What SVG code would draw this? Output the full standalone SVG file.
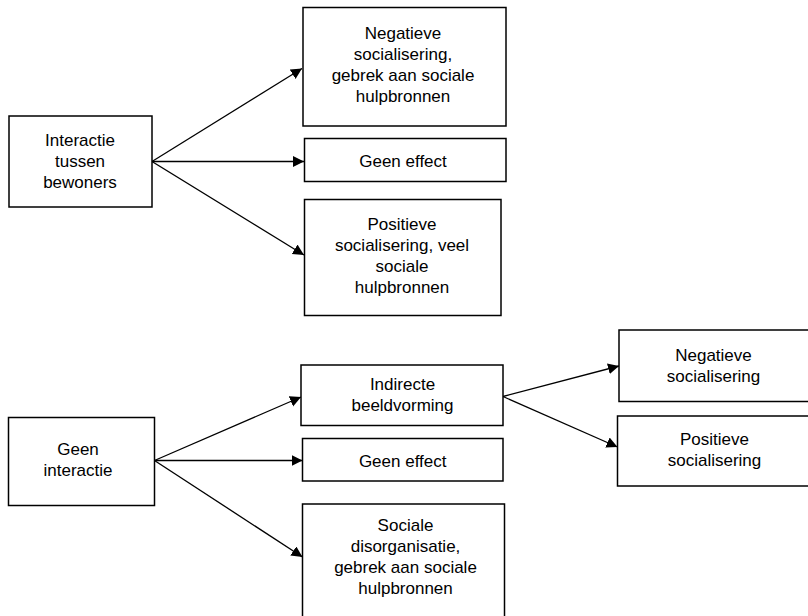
<svg xmlns="http://www.w3.org/2000/svg" width="808" height="616" viewBox="0 0 808 616">
<defs>
<style>
.box{fill:#fff;stroke:#000;stroke-width:1.5}
.t{font-family:"Liberation Sans",Arial,Helvetica,sans-serif;font-size:17px;fill:#000;text-anchor:middle}
.c{stroke:#000;stroke-width:1.3;fill:none;marker-end:url(#ah)}
</style>
<marker id="ah" markerUnits="userSpaceOnUse" markerWidth="12" markerHeight="12" refX="11" refY="5.5" orient="auto" viewBox="0 0 12 12">
<path d="M0,0 L11,5.5 L0,11 z" fill="#000"/>
</marker>
</defs>
<rect width="808" height="616" fill="#fff"/>
<g id="connectors">
<line class="c" x1="152" y1="161.5" x2="302" y2="68.5"/>
<line class="c" x1="152" y1="161.5" x2="304" y2="161.5"/>
<line class="c" x1="152" y1="161.5" x2="304" y2="255"/>
<line class="c" x1="154.5" y1="460.5" x2="301" y2="397"/>
<line class="c" x1="154.5" y1="460.5" x2="302.5" y2="460.5"/>
<line class="c" x1="154.5" y1="460.5" x2="302.5" y2="557"/>
<line class="c" x1="503" y1="396.5" x2="619" y2="366"/>
<line class="c" x1="503" y1="396.5" x2="617.5" y2="447"/>
</g>
<g id="n_interactie">
<rect class="box" x="9" y="116" width="143" height="91"/>
<text class="t" x="80" y="145.5">Interactie</text>
<text class="t" x="80" y="166.5">tussen</text>
<text class="t" x="80" y="187.5">bewoners</text>
</g>
<g id="n_negatief1">
<rect class="box" x="303" y="7.5" width="203" height="118.5"/>
<text class="t" x="403" y="38.5">Negatieve</text>
<text class="t" x="403" y="59.5">socialisering,</text>
<text class="t" x="403" y="80.5">gebrek aan sociale</text>
<text class="t" x="403" y="101.5">hulpbronnen</text>
</g>
<g id="n_geeneffect1">
<rect class="box" x="304.5" y="138.5" width="201.5" height="43"/>
<text class="t" x="403" y="166.5">Geen effect</text>
</g>
<g id="n_positief1">
<rect class="box" x="304.5" y="199.5" width="196.5" height="116"/>
<text class="t" x="402" y="229.5">Positieve</text>
<text class="t" x="402" y="250.5">socialisering, veel</text>
<text class="t" x="402" y="271.5">sociale</text>
<text class="t" x="402" y="292.5">hulpbronnen</text>
</g>
<g id="n_geeninteractie">
<rect class="box" x="8.5" y="417.5" width="146" height="88"/>
<text class="t" x="78" y="454.5">Geen</text>
<text class="t" x="78" y="475.5">interactie</text>
</g>
<g id="n_indirecte">
<rect class="box" x="301" y="365" width="202" height="60.5"/>
<text class="t" x="402.5" y="390">Indirecte</text>
<text class="t" x="402.5" y="410.5">beeldvorming</text>
</g>
<g id="n_geeneffect2">
<rect class="box" x="302.5" y="438.5" width="200.5" height="42.5"/>
<text class="t" x="402.7" y="466.5">Geen effect</text>
</g>
<g id="n_sociale">
<rect class="box" x="302.5" y="504" width="202" height="120"/>
<text class="t" x="405.5" y="531">Sociale</text>
<text class="t" x="405.5" y="552">disorganisatie,</text>
<text class="t" x="405.5" y="573">gebrek aan sociale</text>
<text class="t" x="405.5" y="594">hulpbronnen</text>
</g>
<g id="n_negatief2">
<rect class="box" x="619" y="330" width="192" height="71.5"/>
<text class="t" x="713.5" y="361">Negatieve</text>
<text class="t" x="713.5" y="382">socialisering</text>
</g>
<g id="n_positief2">
<rect class="box" x="617.5" y="416" width="194" height="70"/>
<text class="t" x="714.5" y="445">Positieve</text>
<text class="t" x="714.5" y="466">socialisering</text>
</g>
</svg>
